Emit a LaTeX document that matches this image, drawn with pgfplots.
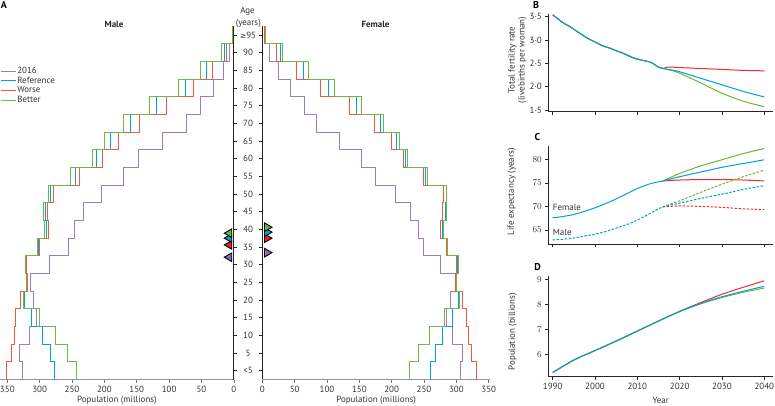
\documentclass[border=0pt]{standalone}
\usepackage{pgfplots}
\pgfplotsset{compat=1.18}
\usepackage{fontspec}
\setmainfont{PT Sans}
\newfontfamily\dejavu{DejaVu Sans}
\definecolor{lpurple}{RGB}{155,125,198}
\definecolor{lcyan}{RGB}{0,165,215}
\definecolor{lred}{RGB}{240,90,60}
\definecolor{lgreen}{RGB}{110,185,70}
\definecolor{tpurple}{RGB}{140,105,180}
\definecolor{tcyan}{RGB}{0,160,220}
\definecolor{tred}{RGB}{235,30,30}
\definecolor{tgreen}{RGB}{100,180,50}
\definecolor{cred}{RGB}{235,45,45}
\definecolor{ccyan}{RGB}{0,160,210}
\definecolor{cgreen}{RGB}{110,180,50}
\begin{document}
\begin{tikzpicture}
\useasboundingbox (0bp,0bp) rectangle (775bp,406bp);
\pgfplotsset{
  pyr/.style={scale only axis, anchor=south west, height=353.3bp, ymin=-0.5, ymax=19.5,
    axis x line*=bottom, axis y line=none,
    x axis line style={draw=black!40, line width=1.6bp},
    xtick={0,50,...,350}, xticklabels={0,50,100,150,200,250,300,350},
    tick align=outside, major tick length=3bp, xtick style={draw=black!55, line width=0.6bp},
    tick label style={font=\fontsize{9}{10}\selectfont, black!80},
    xlabel={Population (millions)},
    xlabel style={at={(axis description cs:0.5,0)}, anchor=center, yshift=-21bp, font=\fontsize{9}{10}\selectfont, text=black!80},
    every axis plot/.append style={line width=0.9bp},
  },
  tsax/.style={scale only axis, anchor=south west, width=224.7bp, xmin=1988.96, xmax=2042.06,
    axis x line*=bottom, axis y line*=left, axis line style={black!85, line width=0.6bp},
    tick align=outside, major tick length=3bp, tick style={black!85, line width=0.6bp},
    xtick={1990,2000,...,2040},
    tick label style={font=\fontsize{9}{10}\selectfont, black!80},
    every axis plot/.append style={line width=1bp, smooth},
  },
}
% ---------------- Male pyramid
\begin{axis}[pyr, at={(0bp,26.5bp)}, width=233.8bp, xmin=0, xmax=361.3, x dir=reverse,
  legend style={at={(axis description cs:0,0.888)}, anchor=north west, draw=none, fill=none,
    font=\fontsize{9}{10}\selectfont, row sep=-0.5bp, inner sep=0pt, nodes={inner sep=1.2bp, text=black!80}},
  legend cell align=left,
  legend image code/.code={\draw[#1] (0bp,0bp) -- (15bp,0bp);}]
\addplot[lpurple] coordinates {(326,-0.5)(326,0.5)(332,0.5)(332,1.5)(316,1.5)(316,2.5)(305,2.5)(305,3.5)(309,3.5)(309,4.5)(314,4.5)(314,5.5)(285,5.5)(285,6.5)(255,6.5)(255,7.5)(247,7.5)(247,8.5)(233,8.5)(233,9.5)(205,9.5)(205,10.5)(171,10.5)(171,11.5)(147,11.5)(147,12.5)(110,12.5)(110,13.5)(73,13.5)(73,14.5)(52,14.5)(52,15.5)(32,15.5)(32,16.5)(16,16.5)(16,17.5)(6,17.5)(6,18.5)(1,18.5)(1,19.5)};
\addlegendentry{2016}
\addplot[lcyan] coordinates {(277,-0.5)(277,0.5)(284,0.5)(284,1.5)(296,1.5)(296,2.5)(313,2.5)(313,3.5)(324,3.5)(324,4.5)(320,4.5)(320,5.5)(322,5.5)(322,6.5)(301.5,6.5)(301.5,7.5)(290,7.5)(290,8.5)(291,8.5)(291,9.5)(283.5,9.5)(283.5,10.5)(245,10.5)(245,11.5)(212,11.5)(212,12.5)(191,12.5)(191,13.5)(160,13.5)(160,14.5)(119,14.5)(119,15.5)(75,15.5)(75,16.5)(42,16.5)(42,17.5)(15,17.5)(15,18.5)(2,18.5)(2,19.5)};
\addlegendentry{Reference}
\addplot[lred] coordinates {(352,-0.5)(352,0.5)(344,0.5)(344,1.5)(339,1.5)(339,2.5)(337,2.5)(337,3.5)(329,3.5)(329,4.5)(318.5,4.5)(318.5,5.5)(321,5.5)(321,6.5)(300,6.5)(300,7.5)(287,7.5)(287,8.5)(288,8.5)(288,9.5)(278,9.5)(278,10.5)(239,10.5)(239,11.5)(203,11.5)(203,12.5)(179,12.5)(179,13.5)(146,13.5)(146,14.5)(104,14.5)(104,15.5)(63,15.5)(63,16.5)(33,16.5)(33,17.5)(12,17.5)(12,18.5)(1.5,18.5)(1.5,19.5)};
\addlegendentry{Worse}
\addplot[lgreen] coordinates {(243,-0.5)(243,0.5)(257,0.5)(257,1.5)(275,1.5)(275,2.5)(301,2.5)(301,3.5)(325,3.5)(325,4.5)(320,4.5)(320,5.5)(322,5.5)(322,6.5)(303,6.5)(303,7.5)(293,7.5)(293,8.5)(294,8.5)(294,9.5)(287,9.5)(287,10.5)(252,10.5)(252,11.5)(218,11.5)(218,12.5)(200,12.5)(200,13.5)(170,13.5)(170,14.5)(130,14.5)(130,15.5)(86,15.5)(86,16.5)(51,16.5)(51,17.5)(19,17.5)(19,18.5)(2.5,18.5)(2.5,19.5)};
\addlegendentry{Better}
\addplot[only marks, forget plot, mark=triangle*, mark size=5bp, mark options={rotate=90, draw=none, fill=tpurple}] coordinates {(7,6.42)};
\addplot[only marks, forget plot, mark=triangle*, mark size=5bp, mark options={rotate=90, draw=none, fill=tred}] coordinates {(7,7.12)};
\addplot[only marks, forget plot, mark=triangle*, mark size=5bp, mark options={rotate=90, draw=none, fill=tcyan}] coordinates {(7,7.5)};
\addplot[only marks, forget plot, mark=triangle*, mark size=5bp, mark options={rotate=90, draw=none, fill=tgreen}] coordinates {(7,7.78)};
\end{axis}
% ---------------- Age axis
\begin{axis}[at={(233.8bp,26.5bp)}, anchor=south west, scale only axis, width=28.5bp, height=353.3bp,
  xmin=0, xmax=1, ymin=-0.5, ymax=19.5, separate axis lines,
  x axis line style={draw=none}, y axis line style={black!85, line width=0.8bp},
  xtick=\empty, ytick={0,...,19},
  yticklabels={<5,5,10,15,20,25,30,35,40,45,50,55,60,65,70,75,80,85,90,{{\dejavu\fontsize{7.5}{9}\selectfont ≥}95}},
  ytick pos=both, yticklabel pos=left, tick align=inside, major tick length=3bp,
  ytick style={black!85, line width=0.6bp},
  yticklabel style={anchor=center, xshift=14.25bp, inner sep=0pt, font=\fontsize{9}{10}\selectfont, text=black!80}]
\end{axis}
% ---------------- Female pyramid
\begin{axis}[pyr, at={(262.3bp,26.5bp)}, width=227.7bp, xmin=0, xmax=352]
\addplot[lpurple] coordinates {(306,-0.5)(306,0.5)(310,0.5)(310,1.5)(294,1.5)(294,2.5)(284,2.5)(284,3.5)(291,3.5)(291,4.5)(300,4.5)(300,5.5)(276,5.5)(276,6.5)(249,6.5)(249,7.5)(241,7.5)(241,8.5)(229,8.5)(229,9.5)(206,9.5)(206,10.5)(175,10.5)(175,11.5)(153,11.5)(153,12.5)(118.5,12.5)(118.5,13.5)(84,13.5)(84,14.5)(65,14.5)(65,15.5)(43,15.5)(43,16.5)(25,16.5)(25,17.5)(10.5,17.5)(10.5,18.5)(3,18.5)(3,19.5)};
\addplot[lcyan] coordinates {(260,-0.5)(260,0.5)(267,0.5)(267,1.5)(278,1.5)(278,2.5)(294,2.5)(294,3.5)(303,3.5)(303,4.5)(300,4.5)(300,5.5)(302,5.5)(302,6.5)(286,6.5)(286,7.5)(278,7.5)(278,8.5)(283.5,8.5)(283.5,9.5)(284,9.5)(284,10.5)(252.5,10.5)(252.5,11.5)(221.5,11.5)(221.5,12.5)(207.5,12.5)(207.5,13.5)(182,13.5)(182,14.5)(146,14.5)(146,15.5)(102,15.5)(102,16.5)(63.5,16.5)(63.5,17.5)(27.5,17.5)(27.5,18.5)(4.5,18.5)(4.5,19.5)};
\addplot[lred] coordinates {(331,-0.5)(331,0.5)(324,0.5)(324,1.5)(318.5,1.5)(318.5,2.5)(316,2.5)(316,3.5)(309,3.5)(309,4.5)(299,4.5)(299,5.5)(300.5,5.5)(300.5,6.5)(285,6.5)(285,7.5)(275,7.5)(275,8.5)(279,8.5)(279,9.5)(280,9.5)(280,10.5)(249,10.5)(249,11.5)(218,11.5)(218,12.5)(200,12.5)(200,13.5)(173,13.5)(173,14.5)(134.5,14.5)(134.5,15.5)(90,15.5)(90,16.5)(53,16.5)(53,17.5)(22,17.5)(22,18.5)(4,18.5)(4,19.5)};
\addplot[lgreen] coordinates {(228,-0.5)(228,0.5)(241,0.5)(241,1.5)(258,1.5)(258,2.5)(282,2.5)(282,3.5)(304.5,3.5)(304.5,4.5)(300.5,4.5)(300.5,5.5)(303,5.5)(303,6.5)(286.5,6.5)(286.5,7.5)(280,7.5)(280,8.5)(284.5,8.5)(284.5,9.5)(285,9.5)(285,10.5)(255,10.5)(255,11.5)(224.5,11.5)(224.5,12.5)(211.5,12.5)(211.5,13.5)(188,13.5)(188,14.5)(152.5,14.5)(152.5,15.5)(111,15.5)(111,16.5)(71,16.5)(71,17.5)(31.5,17.5)(31.5,18.5)(5.5,18.5)(5.5,19.5)};
\addplot[only marks, mark=triangle*, mark size=5bp, mark options={rotate=-90, draw=none, fill=tpurple}] coordinates {(7.3,6.68)};
\addplot[only marks, mark=triangle*, mark size=5bp, mark options={rotate=-90, draw=none, fill=tred}] coordinates {(7.3,7.5)};
\addplot[only marks, mark=triangle*, mark size=5bp, mark options={rotate=-90, draw=none, fill=tcyan}] coordinates {(7.3,7.84)};
\addplot[only marks, mark=triangle*, mark size=5bp, mark options={rotate=-90, draw=none, fill=tgreen}] coordinates {(7.3,8.12)};
\end{axis}
% ---------------- B: fertility
\begin{axis}[tsax, at={(548.3bp,294.3bp)}, height=97.7bp, ymin=1.464, ymax=3.558,
  ytick={1.5,2,2.5,3,3.5}, yticklabels={1·5,2·0,2·5,3·0,3·5}, xticklabels={}]
\addplot[cred] coordinates {(1990,3.54)(1991,3.47)(1992,3.40)(1993,3.34)(1994,3.29)(1995,3.23)(1996,3.17)(1997,3.11)(1998,3.05)(1999,3.00)(2000,2.96)(2001,2.91)(2002,2.87)(2003,2.84)(2004,2.81)(2005,2.77)(2006,2.74)(2007,2.70)(2008,2.66)(2009,2.62)(2010,2.59)(2011,2.57)(2012,2.55)(2013,2.53)(2014,2.48)(2015,2.42)(2016,2.39)(2017,2.42)(2018,2.42)(2020,2.41)(2025,2.39)(2030,2.37)(2035,2.35)(2040,2.34)};
\addplot[cgreen] coordinates {(1990,3.54)(1991,3.47)(1992,3.40)(1993,3.34)(1994,3.29)(1995,3.23)(1996,3.17)(1997,3.11)(1998,3.05)(1999,3.00)(2000,2.96)(2001,2.91)(2002,2.87)(2003,2.84)(2004,2.81)(2005,2.77)(2006,2.74)(2007,2.70)(2008,2.66)(2009,2.62)(2010,2.59)(2011,2.57)(2012,2.55)(2013,2.53)(2014,2.48)(2015,2.42)(2016,2.39)(2018,2.35)(2020,2.29)(2025,2.08)(2030,1.86)(2035,1.69)(2040,1.57)};
\addplot[ccyan] coordinates {(1990,3.54)(1991,3.47)(1992,3.40)(1993,3.34)(1994,3.29)(1995,3.23)(1996,3.17)(1997,3.11)(1998,3.05)(1999,3.00)(2000,2.96)(2001,2.91)(2002,2.87)(2003,2.84)(2004,2.81)(2005,2.77)(2006,2.74)(2007,2.70)(2008,2.66)(2009,2.62)(2010,2.59)(2011,2.57)(2012,2.55)(2013,2.53)(2014,2.48)(2015,2.42)(2016,2.39)(2018,2.36)(2020,2.32)(2025,2.18)(2030,2.04)(2035,1.90)(2040,1.78)};
\end{axis}
% ---------------- C: life expectancy
\begin{axis}[tsax, at={(548.3bp,161.5bp)}, height=98.5bp, ymin=61.92, ymax=82.82,
  ytick={65,70,75,80}, xticklabels={}]
\addplot[cred] coordinates {(2016,75.4)(2020,75.6)(2025,75.7)(2030,75.7)(2035,75.6)(2040,75.4)};
\addplot[cgreen] coordinates {(2016,75.4)(2020,77.0)(2025,78.6)(2030,79.9)(2035,81.2)(2040,82.3)};
\addplot[ccyan] coordinates {(1990,67.6)(1992,67.8)(1995,68.3)(1998,69.1)(2000,69.7)(2003,70.8)(2005,71.6)(2008,72.9)(2010,73.8)(2013,74.8)(2016,75.4)(2020,76.3)(2025,77.3)(2030,78.3)(2035,79.1)(2040,79.9)};
\addplot[cred, dash pattern=on 2.5bp off 1.5bp] coordinates {(2016,69.9)(2020,70.1)(2025,70.0)(2030,69.8)(2035,69.5)(2040,69.3)};
\addplot[cgreen, dash pattern=on 2.5bp off 1.5bp] coordinates {(2016,69.9)(2020,71.2)(2025,73.0)(2030,74.7)(2035,76.3)(2040,77.7)};
\addplot[ccyan, dash pattern=on 2.5bp off 1.5bp] coordinates {(1990,62.9)(1992,63.0)(1995,63.3)(1998,63.8)(2000,64.1)(2003,64.8)(2005,65.4)(2008,66.3)(2010,67.1)(2013,68.5)(2016,69.9)(2020,70.7)(2025,71.7)(2030,72.6)(2035,73.6)(2040,74.4)};
\node[anchor=west, inner sep=0pt, font=\fontsize{9}{10}\selectfont, text=black!80] at (axis cs:1990,69.8) {Female};
\node[anchor=west, inner sep=0pt, font=\fontsize{9}{10}\selectfont, text=black!80] at (axis cs:1990,64.4) {Male};
\end{axis}
% ---------------- D: population
\begin{axis}[tsax, at={(548.3bp,29.3bp)}, height=100.7bp, ymin=5.104, ymax=9.132,
  ytick={6,7,8,9}, xticklabels={1990,2000,2010,2020,2030,2040},
  xlabel={Year}, xlabel style={at={(axis description cs:0.5,0)}, anchor=center, yshift=-23.5bp, font=\fontsize{9}{10}\selectfont, text=black!80}]
\addplot[cred] coordinates {(1990,5.27)(1995,5.77)(2000,6.15)(2005,6.53)(2010,6.93)(2015,7.33)(2016,7.41)(2020,7.72)(2025,8.07)(2030,8.40)(2035,8.68)(2040,8.94)};
\addplot[cgreen] coordinates {(1990,5.27)(1995,5.77)(2000,6.15)(2005,6.53)(2010,6.93)(2015,7.33)(2016,7.41)(2020,7.71)(2025,8.02)(2030,8.27)(2035,8.48)(2040,8.65)};
\addplot[ccyan] coordinates {(1990,5.27)(1995,5.77)(2000,6.15)(2005,6.53)(2010,6.93)(2015,7.33)(2016,7.41)(2020,7.71)(2025,8.04)(2030,8.30)(2035,8.52)(2040,8.72)};
\end{axis}
% ---------------- texts
\node[font=\fontsize{10}{12}\selectfont\bfseries] at (4bp,401bp) {A};
\node[font=\fontsize{10}{12}\selectfont\bfseries] at (536bp,401bp) {B};
\node[font=\fontsize{10}{12}\selectfont\bfseries] at (537.5bp,269.3bp) {C};
\node[font=\fontsize{10}{12}\selectfont\bfseries] at (537.5bp,138.7bp) {D};
\node[font=\fontsize{9}{10}\selectfont\bfseries, text=black!85] at (114bp,382bp) {Male};
\node[font=\fontsize{9}{10}\selectfont\bfseries, text=black!85] at (375.5bp,382bp) {Female};
\node[font=\fontsize{9}{10}\selectfont, text=black!80] at (247.5bp,394.3bp) {Age};
\node[font=\fontsize{9}{10}\selectfont, text=black!80] at (248.3bp,383bp) {(years)};
\node[font=\fontsize{9}{10}\selectfont, text=black!80, rotate=90, align=center] at (517.5bp,346bp) {Total fertility rate\\(livebirths per woman)};
\node[font=\fontsize{9}{10}\selectfont, text=black!80, rotate=90] at (511.7bp,214.3bp) {Life expectancy (years)};
\node[font=\fontsize{9}{10}\selectfont, text=black!80, rotate=90] at (512.7bp,74.3bp) {Population (billions)};
\end{tikzpicture}
\end{document}
